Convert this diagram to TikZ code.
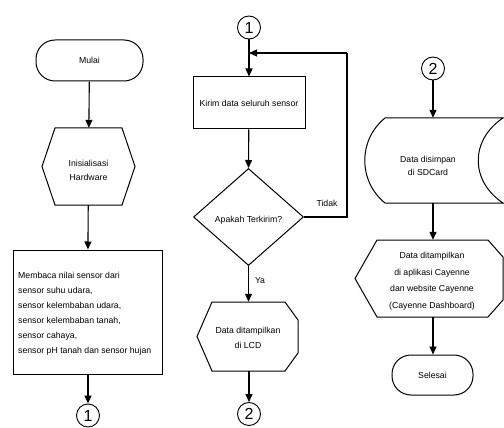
\documentclass[tikz,border=0pt]{standalone}
\usepackage{fontspec}
\setmainfont{Liberation Sans}
\usetikzlibrary{arrows.meta,shapes.geometric}
\begin{document}
\begin{tikzpicture}[x=1pt,y=-1pt,
  every node/.style={font=\fontsize{8.7}{15}\selectfont, inner sep=0pt},
  shp/.style={line width=1pt, line join=miter},
  term/.style={draw, shp, rounded corners=19pt, minimum height=41pt},
  boxn/.style={draw, shp, rectangle},
  hole/.style={draw=none, rectangle},
  conn/.style={circle, draw, line width=0.9pt, minimum size=23pt, font=\fontsize{16}{16}\selectfont},
  arr/.style={line width=1.1pt, -{Triangle[length=8pt,width=7pt]}},
  ln/.style={line width=1.1pt}]
\useasboundingbox (0,0) rectangle (504,428);

% ---------- column 1 ----------
\node[term, minimum width=107pt] (mulai) at (89.5,60.5) {Mulai};
\node[hole, minimum width=93pt, minimum height=77pt] (init) at (88.5,166.5) {};
\draw[shp] (55,128) -- (122,128) -- (135,166.5) -- (122,205) -- (55,205) -- (42,166.5) -- cycle;
\node[align=center, font=\fontsize{8.7}{14}\selectfont] at (88.5,170) {Inisialisasi\\Hardware};
\node[boxn, minimum width=149pt, minimum height=124pt] (baca) at (87.5,312) {};
\node[anchor=west, align=left] at (18,313.5) {Membaca nilai sensor dari\\sensor suhu udara,\\sensor kelembaban udara,\\sensor kelembaban tanah,\\sensor cahaya,\\sensor pH tanah dan sensor hujan};
\node[conn] (c1a) at (88,415.5) {1};

\draw[arr] (mulai) -- (init);
\draw[arr] (init) -- (baca);
\draw[arr] (baca.south -| c1a) -- (c1a);

% ---------- column 2 ----------
\node[conn] (c1b) at (249,27.5) {1};
\node[boxn, minimum width=112pt, minimum height=52pt] (kirim) at (249,103) {Kirim data seluruh sensor};
\node[diamond, draw, shp, minimum width=110pt, minimum height=97pt] (dia) at (248.5,217) {};
\node at (248.5,220) {Apakah Terkirim?};
\node[hole, minimum width=101pt, minimum height=69pt] (lcd) at (247.5,336.5) {};
\draw[shp] (212,302) -- (285,302) -- (298,320) -- (298,353) -- (285,371) -- (212,371) -- (197,336.5) -- cycle;
\node[align=center] at (248,338) {Data ditampilkan\\di LCD};
\node[conn] (c2a) at (249,414) {2};
\coordinate (j) at (249,53);
\coordinate (corner) at (347,53);

\draw[arr] (c1b) -- (kirim);
\draw[arr] (kirim) -- (dia.north);
\draw[arr] (dia.south) -- node[right=6pt, pos=0.4] {Ya} (dia.south |- lcd.north);
\draw[arr] (lcd.south -| c2a) -- (c2a);
\draw[ln] (dia.east) -| (corner);
\draw[arr] (corner) -- (j);
\node at (327,203) {Tidak};

% ---------- column 3 ----------
\node[conn] (c2b) at (433,68.5) {2};
\node[hole, minimum width=138pt, minimum height=85pt] (sd) at (433,160.5) {};
\draw[shp] (385,118) -- (503,118) .. controls (470,140) and (470,181) .. (503,203) -- (385,203) .. controls (358,181) and (358,140) .. (385,118) -- cycle;
\node[align=center, font=\fontsize{8.7}{13}\selectfont] at (428,166) {Data disimpan\\di SDCard};
\node[hole, minimum width=148pt, minimum height=77pt] (disp) at (433,278.5) {};
\draw[shp] (377,240) -- (488,240) -- (503,257) -- (503,300) -- (488,317) -- (377,317) -- (355,278.5) -- cycle;
\node[align=center, font=\fontsize{8.7}{16.5}\selectfont] at (432,281) {Data ditampilkan\\di aplikasi Cayenne\\dan website Cayenne\\(Cayenne Dashboard)};
\node[term, minimum width=81pt, minimum height=40pt] (selesai) at (432.5,375) {Selesai};

\draw[arr] (c2b) -- (c2b |- sd.north);
\draw[arr] (c2b |- sd.south) -- (c2b |- disp.north);
\draw[arr] (c2b |- disp.south) -- (c2b |- selesai.north);
\end{tikzpicture}
\end{document}
